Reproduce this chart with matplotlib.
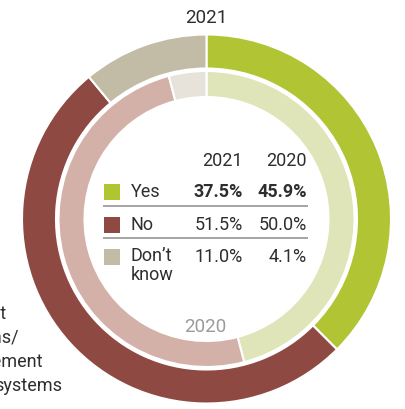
import matplotlib
matplotlib.use("Agg")
import matplotlib.pyplot as plt

plt.rcParams['font.family'] = ['Roboto', 'DejaVu Sans']

categories = ["Yes", "No", "Don\u2019t\nknow"]
values_2021 = [37.5, 51.5, 11.0]
values_2020 = [45.9, 50.0, 4.1]
labels_2021 = ["37.5%", "51.5%", "11.0%"]
labels_2020 = ["45.9%", "50.0%", "4.1%"]
colors_2021 = ["#b0c434", "#8e4942", "#c2bca6"]
colors_2020 = ["#dfe5b8", "#d4b1a8", "#e7e2da"]
left_lines = ["Equipment", "applications/", "management", "systems"]

W, H = 405, 409
fig = plt.figure(figsize=(W / 100, H / 100), dpi=100)
ax = fig.add_axes([0, 0, 1, 1])

def Y(y):
    return H - y

cx, cy = 206.5, Y(219)
ax.pie(values_2021, radius=184.5, center=(cx, cy), startangle=90, counterclock=False,
       colors=colors_2021, wedgeprops=dict(width=34, edgecolor="white", linewidth=1.5))
ax.pie(values_2020, radius=148, center=(cx, cy), startangle=90, counterclock=False,
       colors=colors_2020, wedgeprops=dict(width=26, edgecolor="white", linewidth=1.5))

ax.set_aspect("auto")
ax.set_xlim(0, W)
ax.set_ylim(0, H)
ax.axis("off")

TXT = "#2e2e2e"
ax.text(cx, Y(18), "2021", ha="center", va="center", fontsize=13.5, color=TXT)
ax.text(cx - 1, Y(327), "2020", ha="center", va="center", fontsize=13.5, color="#9a9a9a")

# table
col1, col2 = 243, 307
FS = 13
ax.text(col1, Y(161), "2021", ha="right", va="center", fontsize=FS, color=TXT)
ax.text(col2, Y(161), "2020", ha="right", va="center", fontsize=FS, color=TXT)
row_y = [192, 225, 257]
for i, cat in enumerate(categories):
    y = row_y[i]
    ax.add_patch(plt.Rectangle((104, Y(y + 8)), 16, 16, color=colors_2021[i], lw=0))
    if "\n" in cat:
        ax.text(131, Y(y - 10), cat, ha="left", va="top", fontsize=FS,
                color=TXT, linespacing=1.1)
    else:
        ax.text(131, Y(y), cat, ha="left", va="center", fontsize=FS, color=TXT)
    fw = "bold" if i == 0 else "normal"
    ax.text(col1, Y(y), labels_2021[i], ha="right", va="center", fontsize=FS,
            color=TXT, fontweight=fw)
    ax.text(col2, Y(y), labels_2020[i], ha="right", va="center", fontsize=FS,
            color=TXT, fontweight=fw)
for ly in [205.5, 237.5]:
    ax.plot([103, 308], [Y(ly), Y(ly)], color="#8c8c8c", lw=1.1, solid_capstyle="butt")

# left label, cut off by the figure edge as in the reference
ends = [7, 18, 43, 62]
ys = [314, 338, 362, 386]
for t, e, y in zip(left_lines, ends, ys):
    ax.text(e, Y(y), t, ha="right", va="center", fontsize=FS, color=TXT)

fig.savefig("out.png", dpi=100)
